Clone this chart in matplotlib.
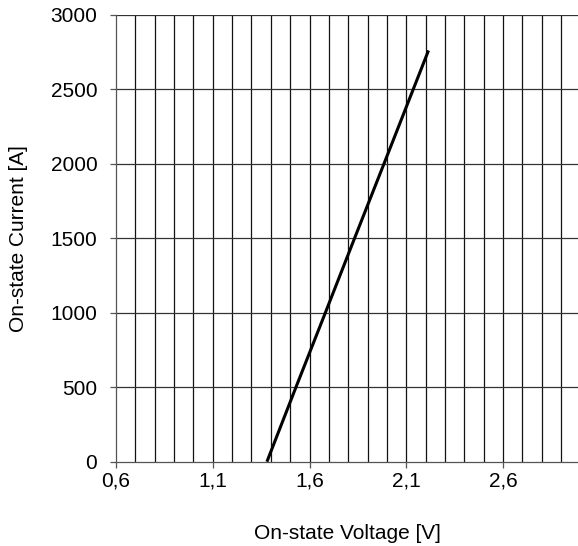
import matplotlib
matplotlib.use("Agg")
import matplotlib.pyplot as plt
import numpy as np

# Data
voltage = [1.38, 1.53, 1.682, 1.833, 1.985, 2.215]
current = [0, 500, 1000, 1500, 2000, 2760]

x_ticks = [0.6, 1.1, 1.6, 2.1, 2.6]
x_tick_labels = ["0,6", "1,1", "1,6", "2,1", "2,6"]
y_ticks = [0, 500, 1000, 1500, 2000, 2500, 3000]
y_tick_labels = ["0", "500", "1000", "1500", "2000", "2500", "3000"]
x_grid = [round(0.7 + 0.1 * i, 1) for i in range(23)]

plt.rcParams['font.family'] = ['Liberation Sans', 'DejaVu Sans']

fig = plt.figure(figsize=(5.78, 5.46), dpi=100)
ax = fig.add_axes([116 / 578, 84.3 / 546, 1 - 116 / 578, (461.7 - 14.7) / 546])

ax.set_xlim(0.6, 0.6 + (578 - 116) / 193.5)
ax.set_ylim(0, 3000)

# grid
for xv in x_grid:
    ax.axvline(xv, color='#111111', lw=0.9, zorder=1)
for yv in y_ticks[1:]:
    ax.axhline(yv, color='#333333', lw=0.9, zorder=1)

ax.plot(voltage, current, color='black', lw=2.2, zorder=3, solid_capstyle='butt')

ax.set_xticks(x_ticks)
ax.set_xticklabels(x_tick_labels)
ax.set_yticks(y_ticks)
ax.set_yticklabels(y_tick_labels)

for s in ['top', 'right']:
    ax.spines[s].set_visible(False)
for s in ['left', 'bottom']:
    ax.spines[s].set_color('#555555')
    ax.spines[s].set_linewidth(0.9)

ax.tick_params(axis='x', direction='out', length=4, width=0.9, color='#555555',
               labelsize=15, pad=3)
ax.tick_params(axis='y', direction='out', length=4.5, width=0.9, color='#555555',
               labelsize=15, pad=9)

ax.set_xlabel('On-state Voltage [V]', fontsize=15, labelpad=24)
ax.set_ylabel('On-state Current [A]', fontsize=15, labelpad=16)

fig.savefig('out.png', dpi=100)
